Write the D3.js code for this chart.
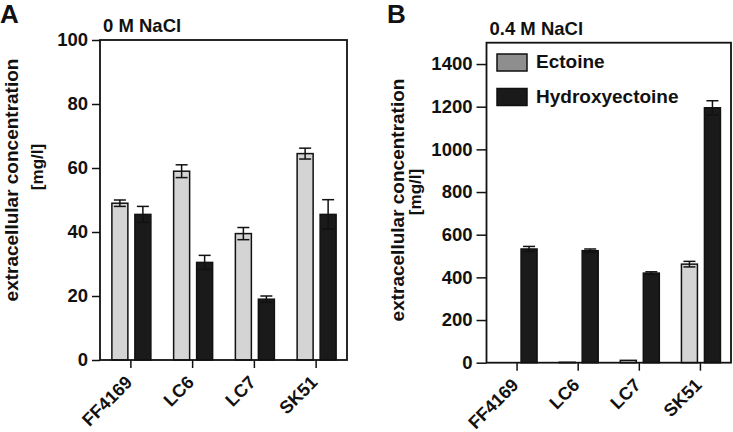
<!DOCTYPE html>
<html>
<head>
<meta charset="utf-8">
<script src="https://cdn.jsdelivr.net/npm/d3@7"></script>
<style>
  body { margin: 0; background: #fff; }
  svg { display: block; }
  svg text { font-family: "Liberation Sans", Arial, sans-serif; font-weight: bold; }
</style>
</head>
<body>
<svg id="chart" width="733" height="432"></svg>
<script>
const strains = ['FF4169', 'LC6', 'LC7', 'SK51'];
const seriesNames = ['Ectoine', 'Hydroxyectoine'];

// panel A, 0 M NaCl (mg/l)
const ectoineA = [49, 59, 39.5, 64.5];
const ectoineErrA = [1, 2, 1.9, 1.7];
const hydroxyA = [45.5, 30.5, 19, 45.5];
const hydroxyErrA = [2.5, 2.2, 1, 4.6];
const ticksA = [0, 20, 40, 60, 80, 100];

// panel B, 0.4 M NaCl (mg/l)
const ectoineB = [0, 2, 11, 462];
const ectoineErrB = [0, 0, 0, 13];
const hydroxyB = [533, 525, 420, 1195];
const hydroxyErrB = [12, 8, 6, 33];
const ticksB = [0, 200, 400, 600, 800, 1000, 1200, 1400];

const colors = {
    Ectoine: '#d4d4d4',
    Hydroxyectoine: '#1a1a1a',
    legendEctoine: '#8e8e8e'
};

const svg = d3.select('#chart');

const drawPanel = (cfg) => {
    const g = svg.append('g');

    const x0 = d3.scaleBand().domain(strains).range([cfg.left, cfg.right]).padding(0);
    const bw = x0.bandwidth();
    const x1 = d3.scaleBand().domain(seriesNames)
        .range([bw / 2 - 19, bw / 2 + 20]).paddingInner(7 / 23).paddingOuter(0);
    const y = d3.scaleLinear().domain([0, cfg.max]).range([cfg.bottom, cfg.top]);

    const rows = strains.map((s, i) => ({
        strain: s,
        vals: [
            { key: 'Ectoine', v: cfg.ect[i], e: cfg.ectErr[i] },
            { key: 'Hydroxyectoine', v: cfg.hyd[i], e: cfg.hydErr[i] }
        ]
    }));

    const grp = g.selectAll('g.grp').data(rows).enter().append('g')
        .attr('transform', d => `translate(${x0(d.strain)},0)`);

    const bar = grp.selectAll('g.bar').data(d => d.vals).enter().append('g');

    bar.filter(d => d.v > 0).append('rect')
        .attr('x', d => x1(d.key))
        .attr('y', d => y(d.v))
        .attr('width', x1.bandwidth())
        .attr('height', d => y(0) - y(d.v))
        .attr('fill', d => colors[d.key])
        .attr('stroke', '#111')
        .attr('stroke-width', 1.5);

    // error bars
    const eb = bar.filter(d => d.e > 0);
    const cx = d => x1(d.key) + x1.bandwidth() / 2;
    eb.append('line')
        .attr('x1', cx).attr('x2', cx)
        .attr('y1', d => y(d.v - d.e)).attr('y2', d => y(d.v + d.e))
        .attr('stroke', '#111').attr('stroke-width', 1.5);
    eb.selectAll('line.cap').data(d => [[d, d.v - d.e], [d, d.v + d.e]]).enter().append('line')
        .attr('x1', d => cx(d[0]) - 6).attr('x2', d => cx(d[0]) + 6)
        .attr('y1', d => y(d[1])).attr('y2', d => y(d[1]))
        .attr('stroke', '#111').attr('stroke-width', 1.5);

    // frame
    g.append('rect')
        .attr('x', cfg.left).attr('y', cfg.top)
        .attr('width', cfg.right - cfg.left).attr('height', cfg.bottom - cfg.top)
        .attr('fill', 'none').attr('stroke', '#111').attr('stroke-width', 1.8);

    const yAxis = g.append('g')
        .attr('transform', `translate(${cfg.left},0)`)
        .call(d3.axisLeft(y).tickValues(cfg.ticks).tickSize(cfg.tick).tickPadding(4).tickFormat(d3.format('d')))
        .attr('font-family', null).attr('font-size', null);
    yAxis.select('.domain').remove();
    yAxis.selectAll('line').attr('stroke', '#111').attr('stroke-width', 1.5);
    yAxis.selectAll('text').attr('fill', '#111').style('font-size', '18.5px');

    const xAxis = g.append('g')
        .attr('transform', `translate(0,${cfg.bottom})`)
        .call(d3.axisBottom(x0).tickSize(8))
        .attr('font-family', null).attr('font-size', null);
    xAxis.select('.domain').remove();
    xAxis.selectAll('line').attr('stroke', '#111').attr('stroke-width', 1.5);
    xAxis.selectAll('text')
        .attr('fill', '#111')
        .style('font-size', '18px')
        .attr('text-anchor', 'end')
        .attr('x', 0).attr('y', 0).attr('dy', 0)
        .attr('transform', 'translate(2.5,23.5) rotate(-45)');

    // panel letter + condition
    g.append('text').attr('x', cfg.letterX).attr('y', 23)
        .style('font-size', '26px').attr('fill', '#111').text(cfg.letter);
    g.append('text').attr('x', cfg.left + 3).attr('y', cfg.top - 8)
        .style('font-size', '18.5px').attr('fill', '#111').text(cfg.title);

    // y label
    g.append('text')
        .attr('transform', `translate(${cfg.labX},${cfg.labY}) rotate(-90)`)
        .attr('text-anchor', 'middle')
        .style('font-size', '19px').attr('fill', '#111')
        .text('extracellular concentration');
    g.append('text')
        .attr('transform', `translate(${cfg.unitX},${cfg.unitY}) rotate(-90)`)
        .attr('text-anchor', 'middle')
        .style('font-size', '17px').attr('fill', '#111')
        .text('[mg/l]');

    return { g, y };
};

drawPanel({
    left: 100, right: 347, top: 40, bottom: 360, max: 100, tick: 8,
    ect: ectoineA, ectErr: ectoineErrA, hyd: hydroxyA, hydErr: hydroxyErrA, ticks: ticksA,
    letter: 'A', letterX: 0, title: '0 M NaCl', labX: 18, labY: 180, unitX: 43, unitY: 167
});

const pB = drawPanel({
    left: 486.5, right: 731, top: 42.7, bottom: 362.7, max: 1500, tick: 10,
    ect: ectoineB, ectErr: ectoineErrB, hyd: hydroxyB, hydErr: hydroxyErrB, ticks: ticksB,
    letter: 'B', letterX: 387, title: '0.4 M NaCl', labX: 404, labY: 200, unitX: 421, unitY: 192
});

// legend (panel B)
const legend = pB.g.selectAll('g.leg').data(seriesNames).enter().append('g')
    .attr('transform', (d, i) => `translate(497,${54 + i * 34.5})`);
legend.append('rect')
    .attr('width', 30).attr('height', 17)
    .attr('fill', d => d === 'Ectoine' ? colors.legendEctoine : colors[d])
    .attr('stroke', '#111').attr('stroke-width', 1.5);
legend.append('text')
    .attr('x', 39).attr('y', 14)
    .style('font-size', '19px').attr('fill', '#111')
    .text(d => d);
</script>
</body>
</html>
